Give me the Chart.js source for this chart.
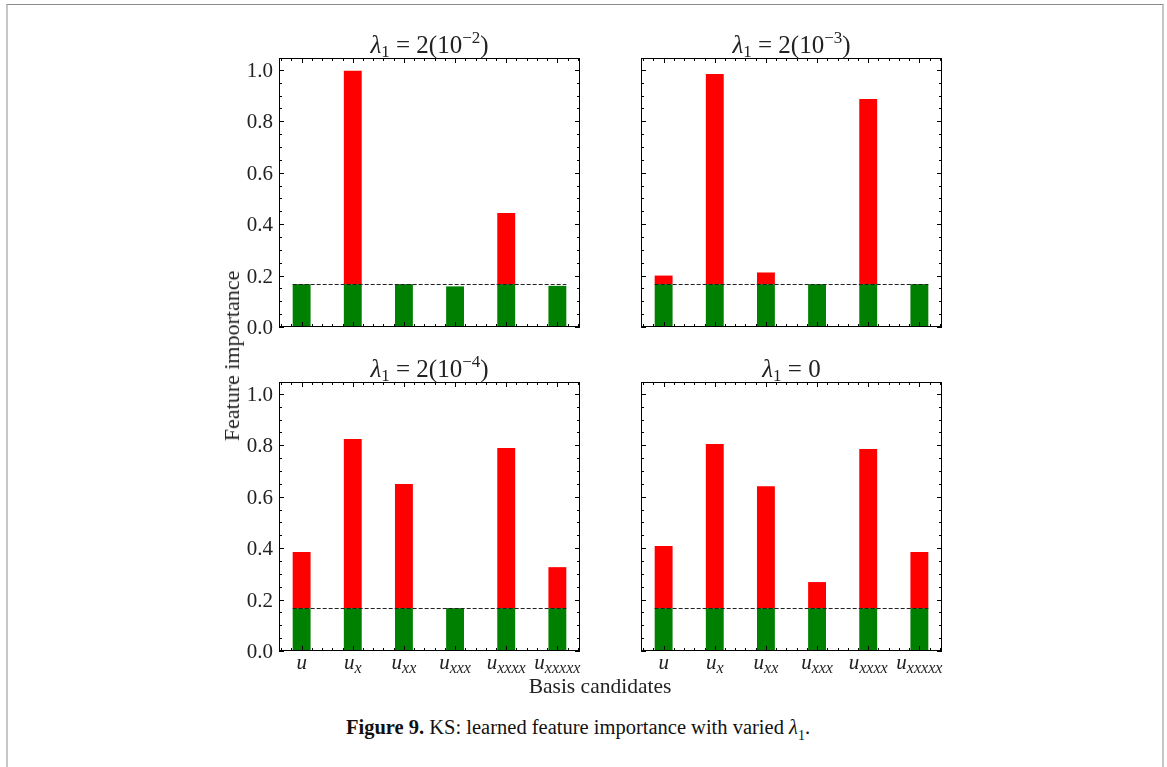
<!DOCTYPE html>
<html>
<head>
<meta charset="utf-8">
<script src="https://cdn.jsdelivr.net/npm/chart.js@4.4.1/dist/chart.umd.min.js"></script>
<style>
  html, body { margin: 0; padding: 0; background: #fff; }
  body { width: 1167px; height: 767px; position: relative; overflow: hidden;
         font-family: "Liberation Serif", "DejaVu Serif", serif; color: #222; }
  .page { position: absolute; left: 6px; top: 4px; width: 1154px; height: 820px;
          border-top: 1px solid #8a8a8a; border-left: 2px solid #c6c6c6; border-right: 2px solid #c6c6c6; }
  canvas { position: absolute; }
  .label { position: absolute; white-space: nowrap; line-height: 1; transform: translate(-50%, -50%); }
  #ylabel { left: 232px; top: 356px; font-size: 22px; transform: translate(-50%, -50%) rotate(-90deg); }
  #xlabel { left: 600px; top: 687px; font-size: 21.5px; }
  #caption { left: 578px; top: 730px; font-size: 20.5px; color: #111; }
  #caption b { font-weight: bold; }
</style>
</head>
<body>
<div class="page"></div>
<canvas id="p1" width="360" height="360" style="left:230px; top:10px"></canvas>
<canvas id="p2" width="360" height="360" style="left:592px; top:10px"></canvas>
<canvas id="p3" width="360" height="360" style="left:230px; top:334px"></canvas>
<canvas id="p4" width="360" height="360" style="left:592px; top:334px"></canvas>
<div class="label" id="ylabel">Feature importance</div>
<div class="label" id="xlabel">Basis candidates</div>
<div class="label" id="caption"><b>Figure 9.</b> KS: learned feature importance with varied <i>λ</i><sub style="font-size:14px">1</sub>.</div>

<script>
// basis terms u, u_x, ... drawn as "u" plus an italic subscript
const basisSub = ["", "x", "xx", "xxx", "xxxx", "xxxxx"];
const basisPos = [0, 1, 2, 3, 4, 5];

// lambda_1 = 2(10^exp); null means lambda_1 = 0
const lambdaExp = ["−2", "−3", "−4", null];

// learned importance per basis term, one array per lambda_1
const importance2e2 = [0.167, 0.996, 0.167, 0.158, 0.443, 0.160];
const importance2e3 = [0.200, 0.984, 0.212, 0.167, 0.887, 0.167];
const importance2e4 = [0.385, 0.824, 0.649, 0.167, 0.789, 0.326];
const importance0 = [0.408, 0.805, 0.641, 0.268, 0.785, 0.385];

// uniform share 1/6: green part below it, red part above it
const threshold = 1 / 6;
const yTicks = [0.0, 0.2, 0.4, 0.6, 0.8, 1.0];

const SERIF = '"Liberation Serif", "DejaVu Serif", serif';
const INK = "#222";

function drawRuns(ctx, runs, cx, baseline) {
  let total = 0;
  runs.forEach(r => { ctx.font = r.font; r.w = ctx.measureText(r.text).width; total += r.w; });
  let x = cx - total / 2;
  ctx.textAlign = "left";
  ctx.textBaseline = "alphabetic";
  runs.forEach(r => { ctx.font = r.font; ctx.fillText(r.text, x, baseline + (r.dy || 0)); x += r.w; });
}

const panelFrame = {
  id: "panelFrame",
  afterDatasetsDraw(chart, args, opts) {
    const { ctx, chartArea: a, scales: { x, y } } = chart;
    ctx.save();

    // dashed 1/6 line over the span of the bars
    const bars = chart.getDatasetMeta(0).data;
    const first = bars[0], last = bars[bars.length - 1];
    const yt = Math.round(y.getPixelForValue(threshold)) + 0.5;
    ctx.strokeStyle = INK;
    ctx.lineWidth = 1;
    ctx.setLineDash([4, 2]);
    ctx.beginPath();
    ctx.moveTo(first.x - first.width / 2, yt);
    ctx.lineTo(last.x + last.width / 2, yt);
    ctx.stroke();
    ctx.setLineDash([]);

    // axes box
    ctx.strokeStyle = "#000";
    ctx.strokeRect(a.left + 0.5, a.top + 0.5, a.width - 1, a.height - 1);

    // inward ticks, y: major 0.2, minor 0.05
    ctx.beginPath();
    for (let i = 0; i * 0.05 <= y.max + 1e-9; i++) {
      const py = Math.round(y.getPixelForValue(i * 0.05)) + 0.5;
      const len = i % 4 === 0 ? 5 : 3;
      ctx.moveTo(a.left, py); ctx.lineTo(a.left + len, py);
      ctx.moveTo(a.right, py); ctx.lineTo(a.right - len, py);
    }
    // x: major at each term, minor every 0.2
    for (let i = -2; i * 0.2 <= x.max; i++) {
      const px = Math.round(x.getPixelForValue(i * 0.2)) + 0.5;
      const len = i % 5 === 0 ? 5 : 3;
      ctx.moveTo(px, a.bottom); ctx.lineTo(px, a.bottom - len);
      ctx.moveTo(px, a.top); ctx.lineTo(px, a.top + len);
    }
    ctx.stroke();

    ctx.fillStyle = INK;
    if (opts.yLabels) {
      ctx.font = "21px " + SERIF;
      ctx.textAlign = "right";
      ctx.textBaseline = "alphabetic";
      yTicks.forEach(v => ctx.fillText(v.toFixed(1), a.left - 6, y.getPixelForValue(v) + 7));
    }
    if (opts.xLabels) {
      basisPos.forEach((p, i) => {
        drawRuns(ctx, [
          { text: "u", font: "italic 21px " + SERIF },
          { text: basisSub[i], font: "italic 16px " + SERIF, dy: 4 }
        ], x.getPixelForValue(p), a.bottom + 18);
      });
    }

    // panel title
    const runs = [
      { text: "λ", font: "italic 25px " + SERIF },
      { text: "1", font: "17px " + SERIF, dy: 4 }
    ];
    if (opts.exp === null) {
      runs.push({ text: " = 0", font: "25px " + SERIF });
    } else {
      runs.push({ text: " = 2(10", font: "25px " + SERIF });
      runs.push({ text: opts.exp, font: "17px " + SERIF, dy: -10 });
      runs.push({ text: ")", font: "25px " + SERIF });
    }
    drawRuns(ctx, runs, (a.left + a.right) / 2, a.top - 5);
    ctx.restore();
  }
};

function makePanel(id, values, exp, yLabels, xLabels) {
  const below = basisPos.map((p, i) => ({ x: p, y: Math.min(values[i], threshold) }));
  const above = basisPos.map((p, i) => ({ x: p, y: Math.max(values[i] - threshold, 0) }));
  return new Chart(document.getElementById(id), {
    type: "bar",
    data: {
      datasets: [
        { data: below, backgroundColor: "#008000", categoryPercentage: 1, barPercentage: 0.35 },
        { data: above, backgroundColor: "#ff0000", categoryPercentage: 1, barPercentage: 0.35 }
      ]
    },
    options: {
      responsive: false,
      animation: false,
      layout: { padding: { left: 49, right: 10, top: 48, bottom: 43 } },
      plugins: {
        legend: { display: false },
        tooltip: { enabled: false },
        panelFrame: { exp, yLabels, xLabels }
      },
      scales: {
        x: {
          type: "linear", display: false, offset: false, stacked: true, min: -0.4425, max: 5.4425,
          afterBuildTicks: s => { s.ticks = basisPos.map(v => ({ value: v })); }
        },
        y: { type: "linear", display: false, stacked: true, min: 0, max: 1.046 }
      }
    },
    plugins: [panelFrame]
  });
}

makePanel("p1", importance2e2, lambdaExp[0], true, false);
makePanel("p2", importance2e3, lambdaExp[1], false, false);
makePanel("p3", importance2e4, lambdaExp[2], true, true);
makePanel("p4", importance0, lambdaExp[3], false, true);
</script>
</body>
</html>
